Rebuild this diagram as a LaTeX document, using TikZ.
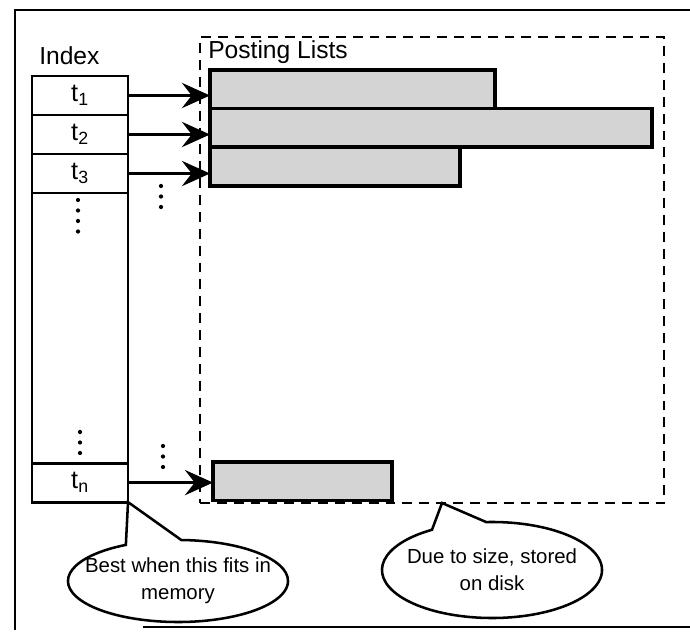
\documentclass[tikz,border=0pt]{standalone}
\usepackage{fontspec}
\setmainfont{Liberation Sans}
\usetikzlibrary{positioning,arrows.meta,shapes.callouts}
\definecolor{stipple}{HTML}{D4D4D4}
\tikzset{
  frame/.style={draw, line width=0.9pt},
  cell/.style={draw, line width=2pt, minimum width=2.4cm, minimum height=0.975cm,
    inner sep=0pt, outer sep=0pt, font=\fontsize{18}{20}\selectfont},
  bar/.style={draw, fill=stipple, line width=2.6pt, minimum height=0.965cm,
    inner sep=0pt, outer sep=0pt, anchor=north west},
  diskarea/.style={draw, dashed, dash pattern=on 7pt off 5pt, line width=1.5pt,
    inner sep=0pt, outer sep=0pt, anchor=north west},
  title/.style={font=\fontsize{17.5}{20}\selectfont, inner sep=0pt},
  ptr/.style={-{Stealth[length=20pt,width=18pt,inset=7pt]}, line width=1.7pt},
  bubble/.style={ellipse callout, draw, line width=1.8pt, callout pointer arc=30,
    inner sep=0pt, minimum width=5.5cm},
  note/.style={align=center, font=\fontsize{14.5}{19}\selectfont, inner sep=0pt},
}
\begin{document}
\begin{tikzpicture}[x=0.025cm, y=-0.025cm]
  \useasboundingbox (0,0) rectangle (690,635);

  % page frame
  \draw[frame] (15,630) -- (15,10) -- (690,10);
  \draw[frame] (143,627) -- (690,627);

  % index column
  \node[title, anchor=base west] (idxtitle) at (39,65) {Index};
  \node[cell, anchor=north west] (t1) at (32,76) {t\textsubscript{1}};
  \node[cell, below=0pt of t1] (t2) {t\textsubscript{2}};
  \node[cell, below=0pt of t2] (t3) {t\textsubscript{3}};
  \node[cell, below=0pt of t3, minimum height=6.75cm] (tgap) {};
  \node[cell, below=0pt of tgap] (tn) {t\textsubscript{n}};

  % posting lists on disk
  \node[diskarea, minimum width=11.6cm, minimum height=11.65cm] (disk) at (200,37) {};
  \node[title, anchor=base west] (disktitle) at (208,59) {Posting Lists};
  \node[bar, minimum width=7.125cm] (p1) at (210,70) {};
  \node[bar, minimum width=11.05cm] (p2) at (p1.south west) {};
  \node[bar, minimum width=6.25cm] (p3) at (p2.south west) {};
  \node[bar, minimum width=4.475cm] (pn) at (213,462) {};

  % pointers
  \draw[ptr] (t1.east) -- (t1.east -| p1.west);
  \draw[ptr] (t2.east) -- (t2.east -| p2.west);
  \draw[ptr] (t3.east) -- (t3.east -| p3.west);
  \draw[ptr] (tn.east) -- (tn.east -| pn.west);

  % elided entries
  \foreach \y in {200,210.5,221,231.5} \fill (78,\y) circle (1.5pt);
  \foreach \y in {432,442.5,453} \fill (80,\y) circle (1.5pt);
  \foreach \y in {186,196.5,207} \fill (161,\y) circle (1.5pt);
  \foreach \y in {446,456.5,467} \fill (163,\y) circle (1.5pt);

  % callouts
  \coordinate (disktip) at (442,503);
  \node[bubble, minimum height=2.05cm, callout absolute pointer=(tn.south east)]
    (memnote) at (178,581) {};
  \node[note] at (memnote.center) {Best when this fits in\\memory};
  \node[bubble, minimum height=2.4cm, callout absolute pointer=(disktip)]
    (disknote) at (492,570) {};
  \node[note] at (disknote.center) {Due to size, stored\\on disk};
\end{tikzpicture}
\end{document}
